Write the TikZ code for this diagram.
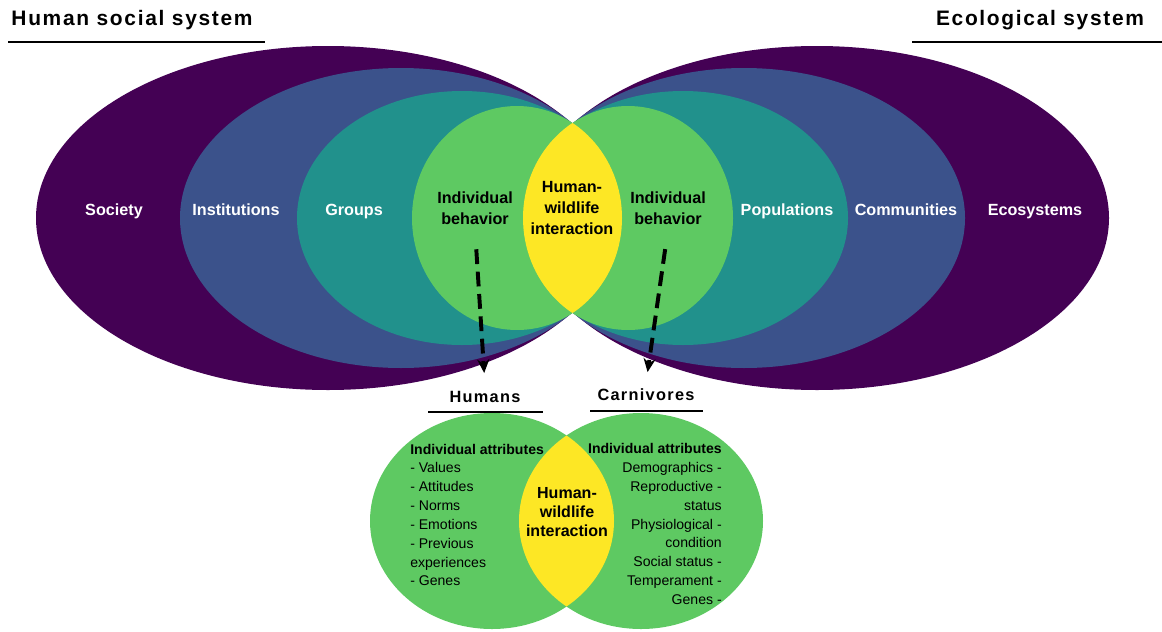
\documentclass[tikz,border=0pt]{standalone}
\usepackage{fontspec}
\setmainfont{Liberation Sans}
\newfontfamily\spacedfont[LetterSpace=8]{Liberation Sans}
\usetikzlibrary{positioning}
\usetikzlibrary{arrows.meta}
\tikzset{tips=proper}
\definecolor{vpurple}{HTML}{440154}
\definecolor{vblue}{HTML}{3B528B}
\definecolor{vteal}{HTML}{21918C}
\definecolor{vgreen}{HTML}{5EC962}
\definecolor{vyellow}{HTML}{FDE725}
\tikzset{%
    level/.style={white, anchor=base, font=\bfseries\fontsize{11.5}{14}\selectfont},
    core/.style={black, align=center, font=\bfseries\fontsize{11.5}{14.8}\selectfont},
    heading/.style={font=\spacedfont\bfseries\fontsize{14.9}{18}\selectfont},
    subheading/.style={anchor=base, font=\spacedfont\bfseries\fontsize{11.6}{14}\selectfont},
    attrs/.style={inner sep=0pt, font=\fontsize{10}{13.4}\selectfont},
    rule/.style={draw, line width=1pt},
    arrow/.style={draw, line width=2.8pt, dash pattern=on 3.7mm off 1.9mm,
        -{Stealth[length=3.4mm, width=3mm]}}
}

\begin{document}
\begin{tikzpicture}[x=0.025cm, y=-0.025cm]
    \useasboundingbox (0,0) rectangle (1162,631);

    % nested levels, left and right of the meeting point
    \begin{scope}
        \clip (0,0) rectangle (572.5,400);
        \foreach \cx/\rx/\ry/\col in {328/292/172/vpurple, 401/221/150/vblue,
                462/165/127/vteal, 517/105/112/vgreen}
            \fill[\col] (\cx,218) ellipse [x radius=\rx, y radius=\ry];
    \end{scope}
    \begin{scope}
        \clip (572.5,0) rectangle (1162,400);
        \foreach \cx/\rx/\ry/\col in {328/292/172/vpurple, 401/221/150/vblue,
                462/165/127/vteal, 517/105/112/vgreen}
            \fill[\col] ({1145-\cx},218) ellipse [x radius=\rx, y radius=\ry];
    \end{scope}
    \begin{scope}
        \clip (517,218) ellipse [x radius=105, y radius=112];
        \fill[vyellow] (628,218) ellipse [x radius=105, y radius=112];
    \end{scope}

    % lower venn
    \fill[vgreen] (492,521) ellipse [x radius=122, y radius=108];
    \fill[vgreen] (641,521) ellipse [x radius=122, y radius=108];
    \begin{scope}
        \clip (492,521) ellipse [x radius=122, y radius=108];
        \fill[vyellow] (641,521) ellipse [x radius=122, y radius=108];
    \end{scope}

    \node[heading] (hss) at (132,20) {Human social system};
    \node[heading] (eco) at (1040,20) {Ecological system};
    \draw[rule] (8,42) -- (265,42);
    \draw[rule] (912,42) -- (1162,42);

    \node[level] (society) at (114,215) {Society};
    \node[level] (institutions) at (236,215) {Institutions};
    \node[level] (groups) at (354,215) {Groups};
    \node[level] (populations) at (787,215) {Populations};
    \node[level] (communities) at (906,215) {Communities};
    \node[level] (ecosystems) at (1035,215) {Ecosystems};

    \node[core] (lbehav) at (475,208) {Individual\\behavior};
    \node[core] (rbehav) at (668,208) {Individual\\behavior};
    \node[core] (hwi) at (572,208) {Human-\\wildlife\\interaction};

    \node[subheading] (humans) at (485,402) {Humans};
    \node[subheading] (carnivores) at (646,400) {Carnivores};
    \draw[rule] (428,412) -- (543,412);
    \draw[rule] (590,411) -- (703,411);

    \draw[arrow, shorten <=5mm, shorten >=3.2mm] (lbehav.south) -- (humans.north);
    \draw[arrow, shorten <=5mm, shorten >=2.8mm] (rbehav.south) -- (carnivores.north);

    \node[attrs, anchor=west, align=left] (hattr) at (410,515)
        {\textbf{Individual attributes}\\- Values\\- Attitudes\\- Norms\\- Emotions\\
         - Previous\\experiences\\- Genes};
    \node[attrs, anchor=east, align=right] (cattr) at (722,524)
        {\textbf{Individual attributes}\\Demographics -\\Reproductive -\\status\\
         Physiological -\\condition\\Social status -\\Temperament -\\Genes -};
    \node[core, font=\bfseries\fontsize{11.4}{13.5}\selectfont] (hwilow) at (567,512)
        {Human-\\wildlife\\interaction};
\end{tikzpicture}
\end{document}
